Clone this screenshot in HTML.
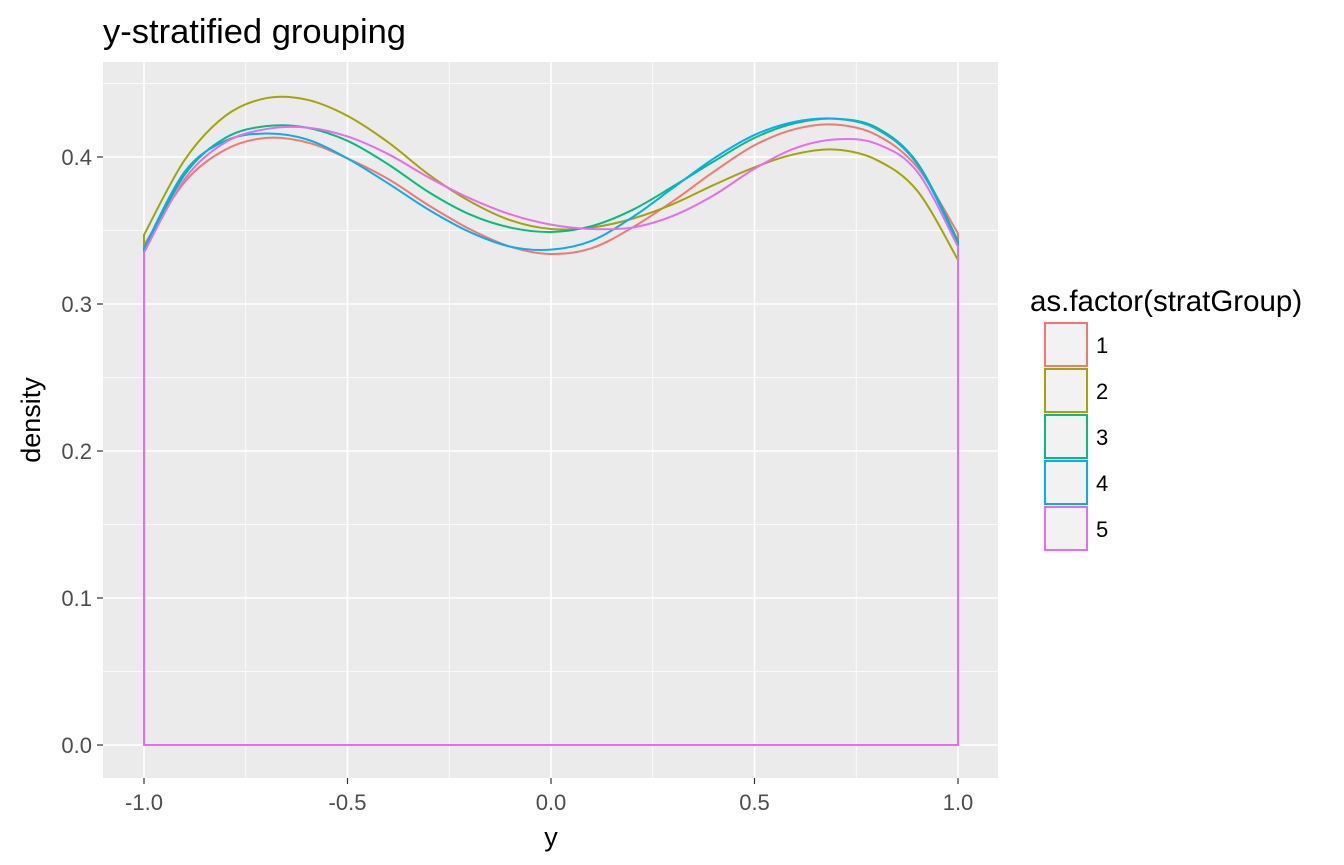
<!DOCTYPE html>
<html><head><meta charset="utf-8"><style>
body{margin:0;background:#fff;}
svg{display:block;font-family:"Liberation Sans",Arial,sans-serif;}
</style></head><body>
<svg id="chart" width="1344" height="865">
<text x="103" y="43" font-size="34.5" fill="#000">y-stratified grouping</text>
<rect x="103" y="62" width="895" height="716" fill="#ebebeb"/>
<g id="grid"></g><g id="series"></g><g id="axes"></g><g id="legend"></g>
<text x="551" y="846" font-size="27" text-anchor="middle">y</text>
<text transform="translate(40,420) rotate(-90)" font-size="27" text-anchor="middle">density</text>
</svg>
<script>
const xs=[-1,-0.9,-0.8,-0.7,-0.6,-0.5,-0.4,-0.3,-0.2,-0.1,0,0.1,0.2,0.3,0.4,0.5,0.6,0.7,0.8,0.9,1];
const groups=["1","2","3","4","5"];
const colors=["#F8766D","#A3A500","#00BF7D","#00B0F6","#E76BF3"];
const s1=[.340,.383,.405,.413,.410,.399,.385,.367,.351,.339,.334,.338,.352,.370,.390,.408,.419,.422,.415,.393,.348];
const s2=[.347,.398,.428,.440,.439,.428,.410,.388,.370,.357,.351,.352,.358,.368,.381,.393,.402,.405,.398,.377,.330];
const s3=[.336,.388,.413,.421,.420,.411,.395,.376,.361,.352,.349,.353,.364,.380,.397,.413,.423,.426,.420,.396,.343];
const s4=[.338,.390,.411,.416,.412,.399,.382,.364,.349,.339,.337,.343,.359,.379,.399,.415,.424,.426,.419,.395,.341];
const s5=[.335,.385,.410,.419,.420,.414,.402,.386,.372,.361,.354,.351,.352,.360,.374,.392,.406,.412,.409,.390,.339];
const series=[s1,s2,s3,s4,s5];
const xMajor=[-1,-0.5,0,0.5,1], xMinor=[-0.75,-0.25,0.25,0.75];
const xLabels=["-1.0","-0.5","0.0","0.5","1.0"];
const yMajor=[0,0.1,0.2,0.3,0.4], yMinor=[0.05,0.15,0.25,0.35,0.45];
const yLabels=["0.0","0.1","0.2","0.3","0.4"];
const X=v=>551+v*407, Y=v=>745-v*1470;
const NS="http://www.w3.org/2000/svg";
function mk(tag,attrs,parent){const e=document.createElementNS(NS,tag);for(const k in attrs)e.setAttribute(k,attrs[k]);parent.appendChild(e);return e;}
const grid=document.getElementById('grid'),axes=document.getElementById('axes');
xMinor.forEach(v=>{const l=mk('line',{x1:X(v),x2:X(v),y1:62,y2:778,stroke:'#fff','stroke-width':0.8},grid);});
yMinor.forEach(v=>{const l=mk('line',{x1:103,x2:998,y1:Y(v),y2:Y(v),stroke:'#fff','stroke-width':0.8},grid);});
xMajor.forEach((v,i)=>{const l=mk('line',{x1:X(v),x2:X(v),y1:62,y2:778,stroke:'#fff','stroke-width':1.6},grid);
 const t=mk('line',{x1:X(v),x2:X(v),y1:778,y2:784,stroke:'#333','stroke-width':1.2},axes);
 const tx=mk('text',{x:X(v),y:810,'font-size':22,fill:'#4d4d4d','text-anchor':'middle'},axes);tx.textContent=xLabels[i];});
yMajor.forEach((v,i)=>{const l=mk('line',{x1:103,x2:998,y1:Y(v),y2:Y(v),stroke:'#fff','stroke-width':1.6},grid);
 const t=mk('line',{x1:97,x2:103,y1:Y(v),y2:Y(v),stroke:'#333','stroke-width':1.2},axes);
 const tx=mk('text',{x:92,y:Y(v)+8,'font-size':22,fill:'#4d4d4d','text-anchor':'end'},axes);tx.textContent=yLabels[i];});
function smooth(pts){let d='';for(let i=0;i<pts.length-1;i++){const p0=pts[Math.max(i-1,0)],p1=pts[i],p2=pts[i+1],p3=pts[Math.min(i+2,pts.length-1)];
 const c1=[p1[0]+(p2[0]-p0[0])/6,p1[1]+(p2[1]-p0[1])/6],c2=[p2[0]-(p3[0]-p1[0])/6,p2[1]-(p3[1]-p1[1])/6];
 d+=` C${c1[0]},${c1[1]} ${c2[0]},${c2[1]} ${p2[0]},${p2[1]}`;}return d;}
const sg=document.getElementById('series');
series.forEach((s,k)=>{const pts=xs.map((x,i)=>[X(x),Y(s[i])]);
 const d=`M${X(xs[0])},${Y(0)} L${pts[0][0]},${pts[0][1]}`+smooth(pts)+` L${X(xs[xs.length-1])},${Y(0)} Z`;
 const p=mk('path',{d:d,fill:'none',stroke:colors[k],'stroke-width':2},sg);});
const lg=document.getElementById('legend');
const lt=mk('text',{x:1030,y:311,'font-size':29.5},lg);lt.textContent='as.factor(stratGroup)';
groups.forEach((g,k)=>{const y=322+k*46;
 const r=mk('rect',{x:1045,y:y+1,width:42,height:43,fill:'#f2f2f2',stroke:colors[k],'stroke-width':2},lg);
 const t=mk('text',{x:1096,y:y+31,'font-size':22},lg);t.textContent=g;});
</script>
</body></html>
